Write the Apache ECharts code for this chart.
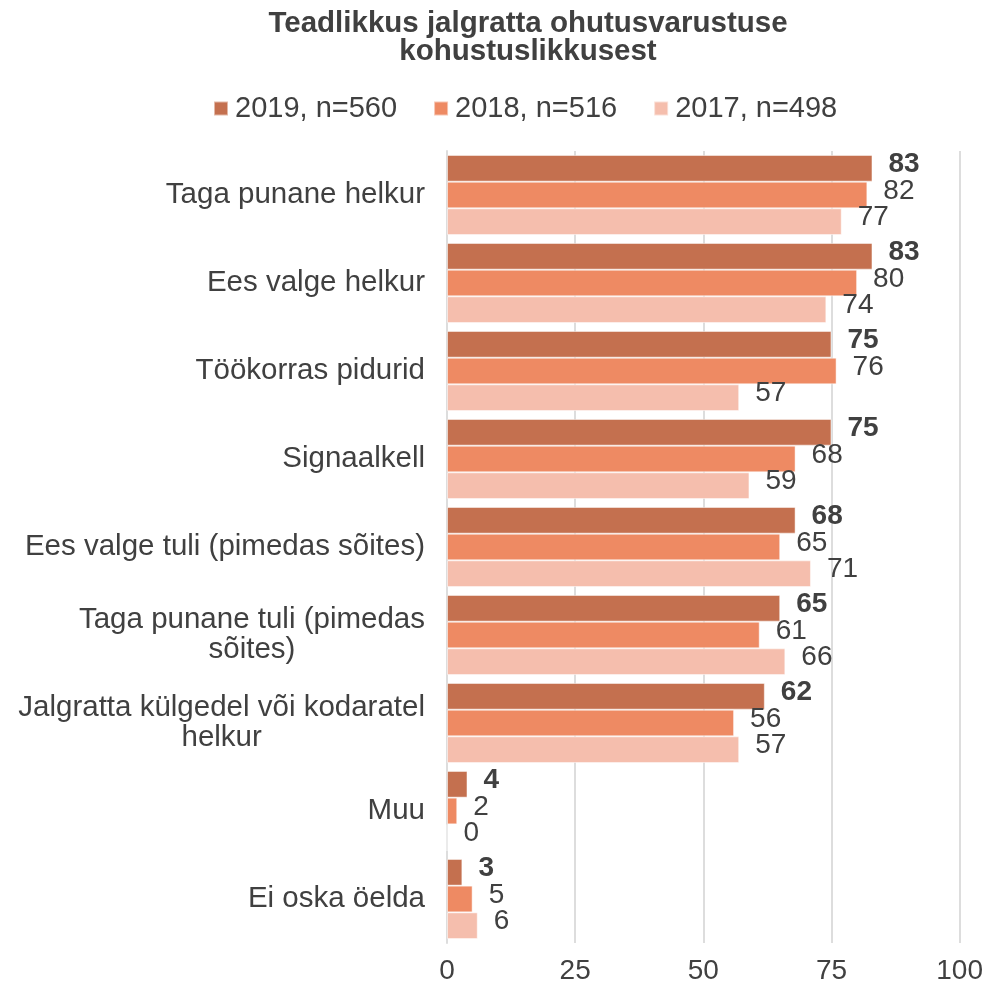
<!DOCTYPE html>
<html>
<head>
<meta charset="utf-8">
<script src="https://cdn.jsdelivr.net/npm/echarts@6/dist/echarts.min.js"></script>
<style>
  html, body { margin: 0; padding: 0; background: #fff; }
  #chart { width: 986px; height: 985px; }
</style>
</head>
<body>
<div id="chart"></div>
<script>
const categories = [
  'Taga punane helkur',
  'Ees valge helkur',
  'Töökorras pidurid',
  'Signaalkell',
  'Ees valge tuli (pimedas sõites)',
  'Taga punane tuli (pimedas\nsõites)',
  'Jalgratta külgedel või kodaratel\nhelkur',
  'Muu',
  'Ei oska öelda'
]
const seriesNames = ['2019, n=560', '2018, n=516', '2017, n=498']
const values2019 = [83, 83, 75, 75, 68, 65, 62, 4, 3]
const values2018 = [82, 80, 76, 68, 65, 61, 56, 2, 5]
const values2017 = [77, 74, 57, 59, 71, 66, 57, 0, 6]
const xTicks = [0, 25, 50, 75, 100]

const COLORS = ['#C4704F', '#EE8A63', '#F5BEAD']
const TEXT = '#404040'
const GRID = '#DDDDDD'
const FONT = '"Liberation Sans", Arial, sans-serif'

const chart = echarts.init(document.getElementById('chart'))

function barSeries(name, data, i) {
  return {
    name,
    type: 'bar',
    data,
    barGap: '0%',
    barCategoryGap: '9%',
    itemStyle: { color: COLORS[i], borderColor: 'rgba(255,255,255,0.5)', borderWidth: 1 },
    label: {
      show: true,
      position: 'right',
      distance: 16,
      offset: [0, -4],
      color: TEXT,
      fontFamily: FONT,
      fontSize: 28,
      fontWeight: i === 0 ? 'bold' : 'normal'
    }
  }
}

chart.setOption({
  animation: false,
  textStyle: { fontFamily: FONT },
  title: {
    text: 'Teadlikkus jalgratta ohutusvarustuse\nkohustuslikkusest',
    left: 523,
    textAlign: 'center',
    top: 5,
    textStyle: { fontSize: 29.5, fontWeight: 'bold', color: TEXT, lineHeight: 28, fontFamily: FONT }
  },
  legend: {
    data: seriesNames,
    top: 89,
    left: 208,
    itemWidth: 14,
    itemHeight: 14,
    itemGap: 36,
    icon: 'rect',
    textStyle: { fontSize: 29, color: TEXT, fontFamily: FONT, padding: [0, 0, 0, 2] }
  },
  grid: { left: 447, right: 25, top: 151, bottom: 42, containLabel: false },
  xAxis: {
    type: 'value',
    min: xTicks[0],
    max: xTicks[xTicks.length - 1],
    interval: xTicks[1] - xTicks[0],
    axisLine: { show: false },
    axisTick: { show: false },
    axisLabel: { fontSize: 28, color: TEXT, margin: 14, fontFamily: FONT },
    splitLine: { lineStyle: { color: GRID, width: 2 } }
  },
  yAxis: {
    type: 'category',
    data: categories,
    inverse: true,
    axisTick: { show: false },
    axisLine: { lineStyle: { color: GRID, width: 2 } },
    axisLabel: {
      fontSize: 29.5,
      color: TEXT,
      margin: 22,
      fontFamily: FONT,
      align: 'right',
      formatter: v => {
        const parts = v.split('\n')
        if (parts.length === 1) return v
        return '{a|' + parts[0] + '}\n{c|' + parts[1] + '}'
      },
      rich: {
        a: { fontSize: 29.5, color: TEXT, fontFamily: FONT, align: 'right', lineHeight: 30 },
        c: { fontSize: 29.5, color: TEXT, fontFamily: FONT, align: 'center', lineHeight: 30 }
      }
    }
  },
  series: [
    barSeries(seriesNames[0], values2019, 0),
    barSeries(seriesNames[1], values2018, 1),
    barSeries(seriesNames[2], values2017, 2)
  ]
})
</script>
</body>
</html>
